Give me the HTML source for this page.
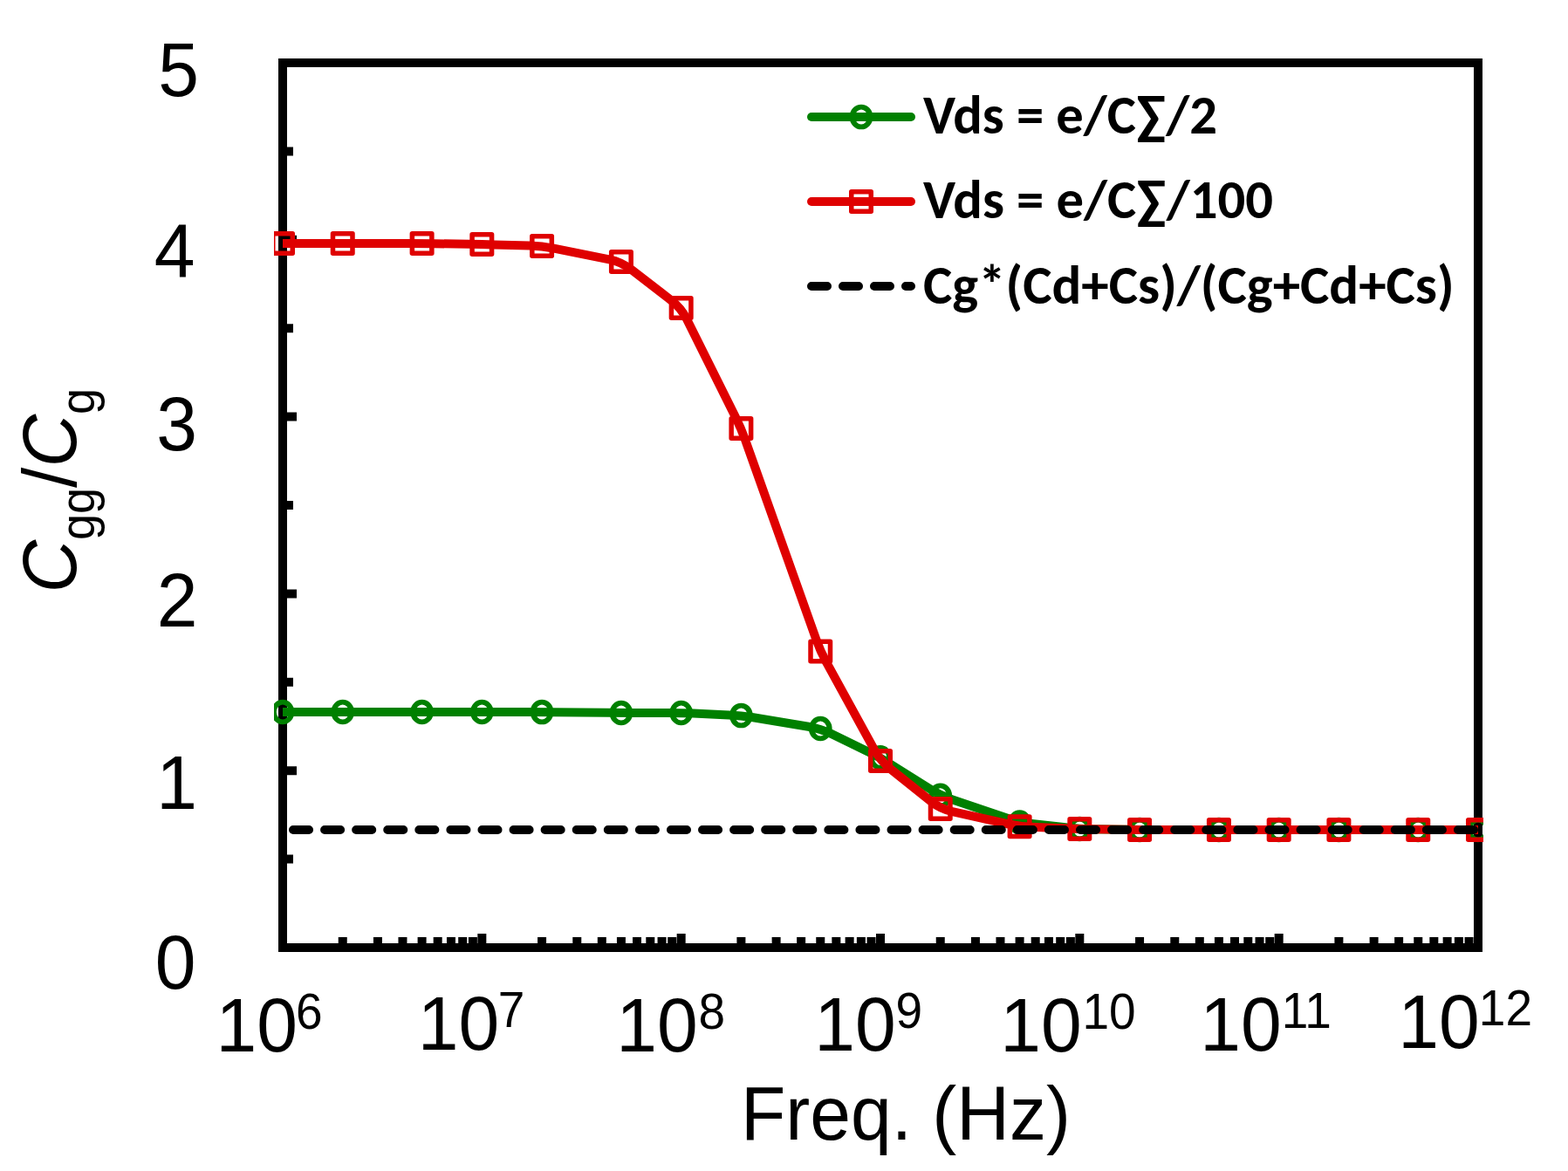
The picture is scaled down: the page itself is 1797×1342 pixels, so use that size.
<!DOCTYPE html><html><head><meta charset="utf-8"><style>html,body{margin:0;padding:0;background:#fff;overflow:hidden}svg{display:block}</style></head><body>
<svg width="1797" height="1342" viewBox="0 0 1797 1342">
<rect width="1797" height="1342" fill="#fff"/>
<defs><clipPath id="pc"><rect x="314" y="67" width="1386" height="1024"/></clipPath></defs>
<rect x="324" y="72" width="1370" height="1014" fill="none" stroke="#000" stroke-width="10"/>
<path d="M329,1086.00h11M329,984.60h7M329,883.20h11M329,781.80h7M329,680.40h11M329,579.00h7M329,477.60h11M329,376.20h7M329,274.80h11M329,173.40h7M329,72.00h11M324.00,1081v-11M392.74,1081v-7M432.94,1081v-7M461.47,1081v-7M483.60,1081v-7M501.68,1081v-7M516.96,1081v-7M530.21,1081v-7M541.89,1081v-7M552.33,1081v-11M621.07,1081v-7M661.28,1081v-7M689.80,1081v-7M711.93,1081v-7M730.01,1081v-7M745.30,1081v-7M758.54,1081v-7M770.22,1081v-7M780.67,1081v-11M849.40,1081v-7M889.61,1081v-7M918.14,1081v-7M940.26,1081v-7M958.34,1081v-7M973.63,1081v-7M986.87,1081v-7M998.55,1081v-7M1009.00,1081v-11M1077.74,1081v-7M1117.94,1081v-7M1146.47,1081v-7M1168.60,1081v-7M1186.68,1081v-7M1201.96,1081v-7M1215.21,1081v-7M1226.89,1081v-7M1237.33,1081v-11M1306.07,1081v-7M1346.28,1081v-7M1374.80,1081v-7M1396.93,1081v-7M1415.01,1081v-7M1430.30,1081v-7M1443.54,1081v-7M1455.22,1081v-7M1465.67,1081v-11M1534.40,1081v-7M1574.61,1081v-7M1603.14,1081v-7M1625.26,1081v-7M1643.34,1081v-7M1658.63,1081v-7M1671.87,1081v-7M1683.55,1081v-7M1694.00,1081v-11" stroke="#000" stroke-width="10" fill="none"/>
<g clip-path="url(#pc)">
<path d="M324.00,816.00 L378.74,816.00 Q392.74,816.00 406.74,816.00 L469.60,816.00 Q483.60,816.00 497.60,816.00 L538.33,816.00 Q552.33,816.00 566.33,816.00 L607.07,816.00 Q621.07,816.00 635.07,816.15 L697.93,816.85 Q711.93,817.00 725.93,817.00 L766.67,817.00 Q780.67,817.00 794.65,817.61 L835.42,819.39 Q849.40,820.00 863.21,822.28 L926.45,832.72 Q940.26,835.00 952.86,841.12 L996.41,862.28 Q1009.00,868.40 1020.84,875.87 L1065.90,904.33 Q1077.74,911.80 1091.00,916.28 L1155.33,938.02 Q1168.60,942.50 1182.52,944.02 L1223.42,948.48 Q1237.33,950.00 1251.33,950.20 L1292.07,950.80 Q1306.07,951.00 1320.07,951.00 L1382.93,951.00 Q1396.93,951.00 1410.93,951.00 L1451.67,951.00 Q1465.67,951.00 1479.67,951.00 L1520.40,951.00 Q1534.40,951.00 1548.40,951.00 L1611.26,951.00 Q1625.26,951.00 1639.26,951.00 L1694.00,951.00" fill="none" stroke="#008000" stroke-width="10" stroke-linejoin="round"/>
<path d="M310.60,816.00a13.4,14.3 0 1,0 26.8,0a13.4,14.3 0 1,0 -26.8,0ZM316.80,816.00a7.2,8.6 0 1,0 14.4,0a7.2,8.6 0 1,0 -14.4,0Z" fill="#008000" fill-rule="evenodd"/>
<path d="M379.34,816.00a13.4,14.3 0 1,0 26.8,0a13.4,14.3 0 1,0 -26.8,0ZM385.54,816.00a7.2,8.6 0 1,0 14.4,0a7.2,8.6 0 1,0 -14.4,0Z" fill="#008000" fill-rule="evenodd"/>
<path d="M470.20,816.00a13.4,14.3 0 1,0 26.8,0a13.4,14.3 0 1,0 -26.8,0ZM476.40,816.00a7.2,8.6 0 1,0 14.4,0a7.2,8.6 0 1,0 -14.4,0Z" fill="#008000" fill-rule="evenodd"/>
<path d="M538.93,816.00a13.4,14.3 0 1,0 26.8,0a13.4,14.3 0 1,0 -26.8,0ZM545.13,816.00a7.2,8.6 0 1,0 14.4,0a7.2,8.6 0 1,0 -14.4,0Z" fill="#008000" fill-rule="evenodd"/>
<path d="M607.67,816.00a13.4,14.3 0 1,0 26.8,0a13.4,14.3 0 1,0 -26.8,0ZM613.87,816.00a7.2,8.6 0 1,0 14.4,0a7.2,8.6 0 1,0 -14.4,0Z" fill="#008000" fill-rule="evenodd"/>
<path d="M698.53,817.00a13.4,14.3 0 1,0 26.8,0a13.4,14.3 0 1,0 -26.8,0ZM704.73,817.00a7.2,8.6 0 1,0 14.4,0a7.2,8.6 0 1,0 -14.4,0Z" fill="#008000" fill-rule="evenodd"/>
<path d="M767.27,817.00a13.4,14.3 0 1,0 26.8,0a13.4,14.3 0 1,0 -26.8,0ZM773.47,817.00a7.2,8.6 0 1,0 14.4,0a7.2,8.6 0 1,0 -14.4,0Z" fill="#008000" fill-rule="evenodd"/>
<path d="M836.00,820.00a13.4,14.3 0 1,0 26.8,0a13.4,14.3 0 1,0 -26.8,0ZM842.20,820.00a7.2,8.6 0 1,0 14.4,0a7.2,8.6 0 1,0 -14.4,0Z" fill="#008000" fill-rule="evenodd"/>
<path d="M926.86,835.00a13.4,14.3 0 1,0 26.8,0a13.4,14.3 0 1,0 -26.8,0ZM933.06,835.00a7.2,8.6 0 1,0 14.4,0a7.2,8.6 0 1,0 -14.4,0Z" fill="#008000" fill-rule="evenodd"/>
<path d="M995.60,868.40a13.4,14.3 0 1,0 26.8,0a13.4,14.3 0 1,0 -26.8,0ZM1001.80,868.40a7.2,8.6 0 1,0 14.4,0a7.2,8.6 0 1,0 -14.4,0Z" fill="#008000" fill-rule="evenodd"/>
<path d="M1064.34,911.80a13.4,14.3 0 1,0 26.8,0a13.4,14.3 0 1,0 -26.8,0ZM1070.54,911.80a7.2,8.6 0 1,0 14.4,0a7.2,8.6 0 1,0 -14.4,0Z" fill="#008000" fill-rule="evenodd"/>
<path d="M1155.20,942.50a13.4,14.3 0 1,0 26.8,0a13.4,14.3 0 1,0 -26.8,0ZM1161.40,942.50a7.2,8.6 0 1,0 14.4,0a7.2,8.6 0 1,0 -14.4,0Z" fill="#008000" fill-rule="evenodd"/>
<path d="M1223.93,950.00a13.4,14.3 0 1,0 26.8,0a13.4,14.3 0 1,0 -26.8,0ZM1230.13,950.00a7.2,8.6 0 1,0 14.4,0a7.2,8.6 0 1,0 -14.4,0Z" fill="#008000" fill-rule="evenodd"/>
<path d="M1292.67,951.00a13.4,14.3 0 1,0 26.8,0a13.4,14.3 0 1,0 -26.8,0ZM1298.87,951.00a7.2,8.6 0 1,0 14.4,0a7.2,8.6 0 1,0 -14.4,0Z" fill="#008000" fill-rule="evenodd"/>
<path d="M1383.53,951.00a13.4,14.3 0 1,0 26.8,0a13.4,14.3 0 1,0 -26.8,0ZM1389.73,951.00a7.2,8.6 0 1,0 14.4,0a7.2,8.6 0 1,0 -14.4,0Z" fill="#008000" fill-rule="evenodd"/>
<path d="M1452.27,951.00a13.4,14.3 0 1,0 26.8,0a13.4,14.3 0 1,0 -26.8,0ZM1458.47,951.00a7.2,8.6 0 1,0 14.4,0a7.2,8.6 0 1,0 -14.4,0Z" fill="#008000" fill-rule="evenodd"/>
<path d="M1521.00,951.00a13.4,14.3 0 1,0 26.8,0a13.4,14.3 0 1,0 -26.8,0ZM1527.20,951.00a7.2,8.6 0 1,0 14.4,0a7.2,8.6 0 1,0 -14.4,0Z" fill="#008000" fill-rule="evenodd"/>
<path d="M1611.86,951.00a13.4,14.3 0 1,0 26.8,0a13.4,14.3 0 1,0 -26.8,0ZM1618.06,951.00a7.2,8.6 0 1,0 14.4,0a7.2,8.6 0 1,0 -14.4,0Z" fill="#008000" fill-rule="evenodd"/>
<path d="M1680.60,951.00a13.4,14.3 0 1,0 26.8,0a13.4,14.3 0 1,0 -26.8,0ZM1686.80,951.00a7.2,8.6 0 1,0 14.4,0a7.2,8.6 0 1,0 -14.4,0Z" fill="#008000" fill-rule="evenodd"/>
<path d="M324.00,279.00 L378.74,279.00 Q392.74,279.00 406.74,279.00 L469.60,279.00 Q483.60,279.00 497.60,279.20 L538.33,279.80 Q552.33,280.00 566.33,280.41 L607.07,281.59 Q621.07,282.00 634.80,284.72 L698.20,297.28 Q711.93,300.00 723.02,308.55 L769.58,344.45 Q780.67,353.00 786.91,365.53 L843.16,478.47 Q849.40,491.00 854.09,504.19 L935.57,733.31 Q940.26,746.50 946.99,758.78 L1002.27,859.72 Q1009.00,872.00 1019.93,880.75 L1066.80,918.25 Q1077.74,927.00 1091.40,930.05 L1154.93,944.25 Q1168.60,947.30 1182.59,947.85 L1223.34,949.45 Q1237.33,950.00 1251.33,950.20 L1292.07,950.80 Q1306.07,951.00 1320.07,951.00 L1382.93,951.00 Q1396.93,951.00 1410.93,951.00 L1451.67,951.00 Q1465.67,951.00 1479.67,951.00 L1520.40,951.00 Q1534.40,951.00 1548.40,951.00 L1611.26,951.00 Q1625.26,951.00 1639.26,951.00 L1694.00,951.00" fill="none" stroke="#df0000" stroke-width="10" stroke-linejoin="round"/>
<rect x="312.75" y="267.75" width="22.5" height="22.5" fill="none" stroke="#df0000" stroke-width="5.5" stroke-linejoin="round"/>
<rect x="381.49" y="267.75" width="22.5" height="22.5" fill="none" stroke="#df0000" stroke-width="5.5" stroke-linejoin="round"/>
<rect x="472.35" y="267.75" width="22.5" height="22.5" fill="none" stroke="#df0000" stroke-width="5.5" stroke-linejoin="round"/>
<rect x="541.08" y="268.75" width="22.5" height="22.5" fill="none" stroke="#df0000" stroke-width="5.5" stroke-linejoin="round"/>
<rect x="609.82" y="270.75" width="22.5" height="22.5" fill="none" stroke="#df0000" stroke-width="5.5" stroke-linejoin="round"/>
<rect x="700.68" y="288.75" width="22.5" height="22.5" fill="none" stroke="#df0000" stroke-width="5.5" stroke-linejoin="round"/>
<rect x="769.42" y="341.75" width="22.5" height="22.5" fill="none" stroke="#df0000" stroke-width="5.5" stroke-linejoin="round"/>
<rect x="838.15" y="479.75" width="22.5" height="22.5" fill="none" stroke="#df0000" stroke-width="5.5" stroke-linejoin="round"/>
<rect x="929.01" y="735.25" width="22.5" height="22.5" fill="none" stroke="#df0000" stroke-width="5.5" stroke-linejoin="round"/>
<rect x="997.75" y="860.75" width="22.5" height="22.5" fill="none" stroke="#df0000" stroke-width="5.5" stroke-linejoin="round"/>
<rect x="1066.49" y="915.75" width="22.5" height="22.5" fill="none" stroke="#df0000" stroke-width="5.5" stroke-linejoin="round"/>
<rect x="1157.35" y="936.05" width="22.5" height="22.5" fill="none" stroke="#df0000" stroke-width="5.5" stroke-linejoin="round"/>
<rect x="1226.08" y="938.75" width="22.5" height="22.5" fill="none" stroke="#df0000" stroke-width="5.5" stroke-linejoin="round"/>
<rect x="1294.82" y="939.75" width="22.5" height="22.5" fill="none" stroke="#df0000" stroke-width="5.5" stroke-linejoin="round"/>
<rect x="1385.68" y="939.75" width="22.5" height="22.5" fill="none" stroke="#df0000" stroke-width="5.5" stroke-linejoin="round"/>
<rect x="1454.42" y="939.75" width="22.5" height="22.5" fill="none" stroke="#df0000" stroke-width="5.5" stroke-linejoin="round"/>
<rect x="1523.15" y="939.75" width="22.5" height="22.5" fill="none" stroke="#df0000" stroke-width="5.5" stroke-linejoin="round"/>
<rect x="1614.01" y="939.75" width="22.5" height="22.5" fill="none" stroke="#df0000" stroke-width="5.5" stroke-linejoin="round"/>
<rect x="1682.75" y="939.75" width="22.5" height="22.5" fill="none" stroke="#df0000" stroke-width="5.5" stroke-linejoin="round"/>
<path d="M336,951 H1694" fill="none" stroke="#000" stroke-width="10" stroke-linecap="round" stroke-dasharray="18.04 18.04"/>
</g>
<path d="M930,134H1044" stroke="#008000" stroke-width="10" stroke-linecap="round"/>
<path d="M973.60,134.00a13.4,14.3 0 1,0 26.8,0a13.4,14.3 0 1,0 -26.8,0ZM979.80,134.00a7.2,8.6 0 1,0 14.4,0a7.2,8.6 0 1,0 -14.4,0Z" fill="#008000" fill-rule="evenodd"/>
<path d="M930,231H1044" stroke="#df0000" stroke-width="10" stroke-linecap="round"/>
<rect x="975.75" y="219.75" width="22.5" height="22.5" fill="none" stroke="#df0000" stroke-width="5.5" stroke-linejoin="round"/>
<path d="M930,328H1044" stroke="#000" stroke-width="10" stroke-linecap="round" stroke-dasharray="18 18"/>
<text x="1058" y="152.9" font-family="Carlito, 'Liberation Sans', sans-serif" font-weight="bold" font-size="63" textLength="337" lengthAdjust="spacingAndGlyphs">Vds = e/C∑/2</text>
<text x="1058" y="250.3" font-family="Carlito, 'Liberation Sans', sans-serif" font-weight="bold" font-size="63" textLength="401" lengthAdjust="spacingAndGlyphs">Vds = e/C∑/100</text>
<text x="1058" y="347.5" font-family="Carlito, 'Liberation Sans', sans-serif" font-weight="bold" font-size="63" textLength="608.6" lengthAdjust="spacingAndGlyphs">Cg*(Cd+Cs)/(Cg+Cd+Cs)</text>
<text transform="translate(228,109.5) scale(1,1.04)" text-anchor="end" font-family="'Liberation Sans', Arial, sans-serif" font-size="84">5</text>
<text transform="translate(223.5,318) scale(1,1.04)" text-anchor="end" font-family="'Liberation Sans', Arial, sans-serif" font-size="84">4</text>
<text transform="translate(226,516) scale(1,1.04)" text-anchor="end" font-family="'Liberation Sans', Arial, sans-serif" font-size="84">3</text>
<text transform="translate(226.5,718) scale(1,1.04)" text-anchor="end" font-family="'Liberation Sans', Arial, sans-serif" font-size="84">2</text>
<text transform="translate(226,927) scale(1,1.04)" text-anchor="end" font-family="'Liberation Sans', Arial, sans-serif" font-size="84">1</text>
<text transform="translate(224.5,1133) scale(1,1.04)" text-anchor="end" font-family="'Liberation Sans', Arial, sans-serif" font-size="84">0</text>
<text transform="translate(247.60,1205) scale(1,1.04)" font-family="'Liberation Sans', Arial, sans-serif" font-size="84">10<tspan font-size="55" dx="-2" dy="-25">6</tspan></text>
<text transform="translate(478.70,1203) scale(1,1.04)" font-family="'Liberation Sans', Arial, sans-serif" font-size="84">10<tspan font-size="55" dx="-1.3" dy="-25">7</tspan></text>
<text transform="translate(706.20,1205) scale(1,1.04)" font-family="'Liberation Sans', Arial, sans-serif" font-size="84">10<tspan font-size="55" dx="1" dy="-25">8</tspan></text>
<text transform="translate(933.30,1204) scale(1,1.04)" font-family="'Liberation Sans', Arial, sans-serif" font-size="84">10<tspan font-size="55" dx="-0.3" dy="-25">9</tspan></text>
<text transform="translate(1146.20,1205) scale(1,1.04)" font-family="'Liberation Sans', Arial, sans-serif" font-size="84">10<tspan font-size="55" dx="0.8" dy="-25">10</tspan></text>
<text transform="translate(1375.30,1204) scale(1,1.04)" font-family="'Liberation Sans', Arial, sans-serif" font-size="84">10<tspan font-size="55" dx="0" dy="-25">11</tspan></text>
<text transform="translate(1602.20,1201) scale(1,1.04)" font-family="'Liberation Sans', Arial, sans-serif" font-size="84">10<tspan font-size="55" dx="-0.8" dy="-25">12</tspan></text>
<text transform="translate(849,1306) scale(1,1.04)" font-family="'Liberation Sans', Arial, sans-serif" font-size="84">Freq. (Hz)</text>
<text transform="translate(86.5,679.6) rotate(-90) scale(1,1.04)" font-family="'Liberation Sans', Arial, sans-serif" font-size="84"><tspan font-style="italic">C</tspan><tspan font-size="54" dy="20.5">gg</tspan><tspan dy="-20.5">/</tspan><tspan font-style="italic">C</tspan><tspan font-size="54" dy="20.5">g</tspan></text>
</svg></body></html>
